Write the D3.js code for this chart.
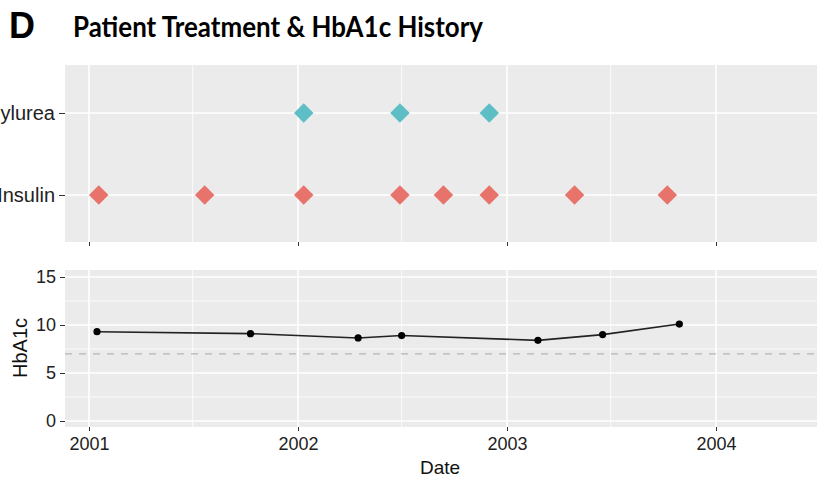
<!DOCTYPE html>
<html>
<head>
<meta charset="utf-8">
<script src="https://d3js.org/d3.v7.min.js"></script>
<style>
  body { margin: 0; background: #fff; }
  svg { display: block; }
</style>
</head>
<body>
<div id="chart"></div>
<script>
// treatment records (drug, date)
var drugs = ["Sulfonylurea", "Insulin"];
var insulinDates = ["2001-01-18", "2001-07-22", "2002-01-11", "2002-06-28", "2002-09-12", "2002-12-01", "2003-04-29", "2003-10-08"];
var sulfoDates = ["2002-01-11", "2002-06-28", "2002-12-01"];

// HbA1c history
var hbDates = ["2001-01-15", "2001-10-10", "2002-04-16", "2002-07-01", "2003-02-24", "2003-06-17", "2003-10-29"];
var hbValues = [9.3, 9.1, 8.65, 8.9, 8.4, 9.0, 10.1];
var target = 7;

var yearTicks = ["2001-01-01", "2002-01-01", "2003-01-01", "2004-01-01"];
var halfTicks = ["2000-07-01", "2001-07-01", "2002-07-01", "2003-07-01", "2004-07-01"];
var hbTicks = [0, 5, 10, 15];
var hbMinor = [2.5, 7.5, 12.5];

var W = 824, H = 483;
var parse = d3.timeParse("%Y-%m-%d");
var colors = { "Insulin": "#E8736B", "Sulfonylurea": "#5DBFC5" };

var svg = d3.select("#chart").append("svg").attr("width", W).attr("height", H);

var left = 65, right = 817;
var top1 = 65, bot1 = 242;
var top2 = 270, bot2 = 427;

// x scale: 2001 at 89, 2004 at 716
var x = d3.scaleTime()
  .domain([parse("2001-01-01"), parse("2004-01-01")])
  .range([89, 716]);

// title
svg.append("text").attr("x", 9).attr("y", 38)
  .attr("font-family", "Liberation Sans, Arial, sans-serif").attr("font-weight", "bold")
  .attr("font-size", 36).text("D");
svg.append("text").attr("x", 73).attr("y", 37)
  .attr("font-family", "Lato, Open Sans, sans-serif").attr("font-weight", "bold")
  .attr("font-size", 28).attr("textLength", 410).attr("lengthAdjust", "spacingAndGlyphs")
  .text("Patient Treatment & HbA1c History");

var font = "Liberation Sans, Arial, sans-serif";

// clip for panels
var defs = svg.append("defs");
defs.append("clipPath").attr("id", "c1").append("rect")
  .attr("x", left).attr("y", top1).attr("width", right - left).attr("height", bot1 - top1);
defs.append("clipPath").attr("id", "c2").append("rect")
  .attr("x", left).attr("y", top2).attr("width", right - left).attr("height", bot2 - top2);

// ---------- top panel ----------
var yCat = d3.scalePoint().domain(drugs).range([113, 195]);

var p1 = svg.append("g").attr("clip-path", "url(#c1)");
p1.append("rect").attr("x", left).attr("y", top1).attr("width", right - left).attr("height", bot1 - top1)
  .attr("fill", "#EBEBEB");
p1.selectAll(".minor").data(halfTicks).enter().append("line")
  .attr("x1", d => x(parse(d))).attr("x2", d => x(parse(d)))
  .attr("y1", top1).attr("y2", bot1)
  .attr("stroke", "#fff").attr("stroke-width", 0.8);
p1.selectAll(".major").data(yearTicks).enter().append("line")
  .attr("x1", d => x(parse(d))).attr("x2", d => x(parse(d)))
  .attr("y1", top1).attr("y2", bot1)
  .attr("stroke", "#fff").attr("stroke-width", 1.6);
p1.selectAll(".hmajor").data(drugs).enter().append("line")
  .attr("x1", left).attr("x2", right)
  .attr("y1", d => yCat(d)).attr("y2", d => yCat(d))
  .attr("stroke", "#fff").attr("stroke-width", 1.6);

var treat = insulinDates.map(d => ({ drug: "Insulin", date: parse(d) }))
  .concat(sulfoDates.map(d => ({ drug: "Sulfonylurea", date: parse(d) })));
var diamond = d3.symbol().type(d3.symbolSquare).size(190);
p1.selectAll(".pt").data(treat).enter().append("path")
  .attr("d", diamond)
  .attr("transform", d => "translate(" + x(d.date) + "," + yCat(d.drug) + ") rotate(45)")
  .attr("fill", d => colors[d.drug]);

// top axes
var ax1 = svg.append("g").attr("transform", "translate(" + left + ",0)")
  .call(d3.axisLeft(yCat).tickSize(6).tickPadding(4));
var ax1b = svg.append("g").attr("transform", "translate(0," + bot1 + ")")
  .call(d3.axisBottom(x).tickValues(yearTicks.map(parse)).tickSize(4).tickFormat(""));

// ---------- bottom panel ----------
var y = d3.scaleLinear().domain([0, 15]).range([421, 277]);

var p2 = svg.append("g").attr("clip-path", "url(#c2)");
p2.append("rect").attr("x", left).attr("y", top2).attr("width", right - left).attr("height", bot2 - top2)
  .attr("fill", "#EBEBEB");
p2.selectAll(".hminor").data(hbMinor).enter().append("line")
  .attr("x1", left).attr("x2", right)
  .attr("y1", d => y(d)).attr("y2", d => y(d))
  .attr("stroke", "#fff").attr("stroke-width", 0.8);
p2.selectAll(".minor").data(halfTicks).enter().append("line")
  .attr("x1", d => x(parse(d))).attr("x2", d => x(parse(d)))
  .attr("y1", top2).attr("y2", bot2)
  .attr("stroke", "#fff").attr("stroke-width", 0.8);
p2.selectAll(".hmajor").data(hbTicks).enter().append("line")
  .attr("x1", left).attr("x2", right)
  .attr("y1", d => y(d)).attr("y2", d => y(d))
  .attr("stroke", "#fff").attr("stroke-width", 1.6);
p2.selectAll(".major").data(yearTicks).enter().append("line")
  .attr("x1", d => x(parse(d))).attr("x2", d => x(parse(d)))
  .attr("y1", top2).attr("y2", bot2)
  .attr("stroke", "#fff").attr("stroke-width", 1.6);

p2.append("line").attr("x1", left).attr("x2", right)
  .attr("y1", y(target)).attr("y2", y(target))
  .attr("stroke", "#B5B5B5").attr("stroke-width", 1.3).attr("stroke-dasharray", "7,7");

var hb = hbDates.map((d, i) => ({ date: parse(d), v: hbValues[i] }));
p2.append("path").datum(hb)
  .attr("d", d3.line().x(d => x(d.date)).y(d => y(d.v)))
  .attr("fill", "none").attr("stroke", "#222").attr("stroke-width", 1.6);
p2.selectAll(".dot").data(hb).enter().append("circle")
  .attr("cx", d => x(d.date)).attr("cy", d => y(d.v)).attr("r", 3.6)
  .attr("fill", "#000");

var ax2 = svg.append("g").attr("transform", "translate(" + left + ",0)")
  .call(d3.axisLeft(y).tickValues(hbTicks).tickSize(5).tickPadding(4));
var ax2b = svg.append("g").attr("transform", "translate(0," + bot2 + ")")
  .call(d3.axisBottom(x).tickValues(yearTicks.map(parse)).tickSize(4).tickPadding(6)
    .tickFormat(d3.timeFormat("%Y")));

[ax1, ax1b, ax2, ax2b].forEach(function(a) {
  a.select(".domain").remove();
  a.selectAll(".tick line").attr("stroke", "#333");
  a.selectAll(".tick text").attr("fill", "#222").attr("font-family", font).attr("font-size", 18);
});
ax1.selectAll(".tick text").attr("font-size", 20);

svg.append("text").attr("x", 440).attr("y", 474).attr("text-anchor", "middle")
  .attr("font-family", font).attr("font-size", 19).attr("fill", "#111").text("Date");
svg.append("text").attr("transform", "translate(27,348) rotate(-90)").attr("text-anchor", "middle")
  .attr("font-family", font).attr("font-size", 20).attr("fill", "#111").text("HbA1c");
</script>
</body>
</html>
